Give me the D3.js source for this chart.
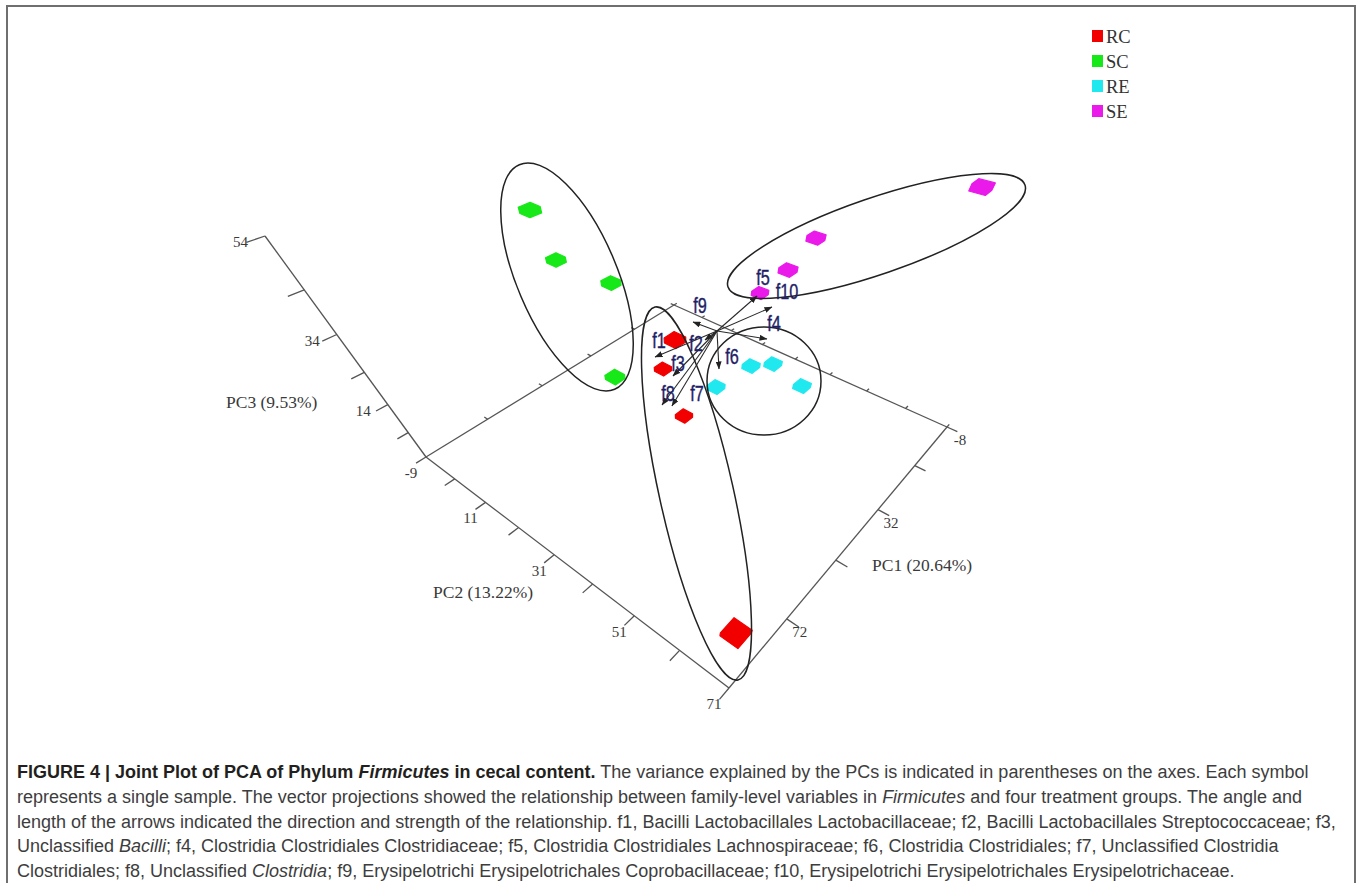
<!DOCTYPE html>
<html><head><meta charset="utf-8">
<script src="https://cdnjs.cloudflare.com/ajax/libs/d3/7.8.5/d3.min.js"></script>
<style>html,body{margin:0;padding:0;background:#fff;} svg{display:block;} text{white-space:pre;}</style>
</head><body>
<svg id="chart" width="1363" height="883"></svg>
<script>
// ---------------- data ----------------
const groups = ["RC", "SC", "RE", "SE"];
const pc1Domain = [-8, 92];
const pc2Domain = [-9, 71];
const pc3Domain = [-6, 54];
const pc1Ticks = [-8, 12, 32, 52, 72];
const pc1TickLabels = ["-8", "", "32", "", "72"];
const pc2Ticks = [-9, 1, 11, 21, 31, 41, 51, 61, 71];
const pc2TickLabels = ["-9", "", "11", "", "31", "", "51", "", "71"];
const pc3Ticks = [4, 14, 24, 34, 44, 54];
const pc3TickLabels = ["", "14", "", "34", "", "54"];
const axisTitles = ["PC1 (20.64%)", "PC2 (13.22%)", "PC3 (9.53%)"];

// sample scores [PC1, PC2, PC3]
const samplesRC = [[45.66, 29.16, 29.42], [35.78, 18.49, 8.44], [40.95, 27.65, 0.95], [91.81, 69.87, 25.20]];
const samplesSC = [[45.93, -2.33, 45.91], [42.64, -2.09, 33.42], [38.19, 8.30, 30.20], [53.08, 19.15, 16.86]];
const samplesRE = [[34.11, 31.52, 9.75], [24.77, 34.44, 12.98], [20.88, 37.59, 13.31], [20.11, 44.62, 9.99]];
const samplesSE = [[5.35, 24.78, 20.69], [9.54, 32.24, 32.22], [0.08, 32.75, 36.79], [-4.49, 56.27, 54.00]];

// family-level vectors (joint plot arrows)
const vectorNames = ["f1", "f2", "f3", "f4", "f5", "f6", "f7", "f8", "f9", "f10"];
const vectorOrigin = [2.36, 12.38, 0];
const vectorTips = [
  [25.12, 8.05, 0], [8.64, 12.59, 0], [28.74, 16.15, 0], [-4.03, 23.90, 0], [-22.95, 10.12, 0],
  [17.64, 22.51, 0], [39.08, 22.99, 0], [40.52, 21.13, 0], [3.20, 5.21, 0], [-20.41, 16.36, 0]
];

const captionLines = [
  [{t: "FIGURE 4 | Joint Plot of PCA of Phylum ", b: 1}, {t: "Firmicutes", b: 1, i: 1}, {t: " in cecal content.", b: 1}, {t: " The variance explained by the PCs is indicated in parentheses on the axes. Each symbol"}],
  [{t: "represents a single sample. The vector projections showed the relationship between family-level variables in "}, {t: "Firmicutes", i: 1}, {t: " and four treatment groups. The angle and"}],
  [{t: "length of the arrows indicated the direction and strength of the relationship. f1, Bacilli Lactobacillales Lactobacillaceae; f2, Bacilli Lactobacillales Streptococcaceae; f3,"}],
  [{t: "Unclassified "}, {t: "Bacilli", i: 1}, {t: "; f4, Clostridia Clostridiales Clostridiaceae; f5, Clostridia Clostridiales Lachnospiraceae; f6, Clostridia Clostridiales; f7, Unclassified Clostridia"}],
  [{t: "Clostridiales; f8, Unclassified "}, {t: "Clostridia", i: 1}, {t: "; f9, Erysipelotrichi Erysipelotrichales Coprobacillaceae; f10, Erysipelotrichi Erysipelotrichales Erysipelotrichaceae."}]
];

// ---------------- layout / style ----------------
const colors = {RC: "#f20000", SC: "#17e817", RE: "#1fe9ef", SE: "#ea1aea"};
const frameAnchors = {B: [674, 305], A: [426, 457], D: [729, 688], C: [947, 427], T: [265, 236]};
const depthRatio = 0.6215;
const boxHalf = [0.016, 0.016, 0.011];
const ellipses = {
  SC: {cx: 567, cy: 277, rx: 122, ry: 50, angle: 67},
  RC: {cx: 696.5, cy: 493.5, rx: 191, ry: 37, angle: 77.45},
  RE: {cx: 764, cy: 381, rx: 57, ry: 54, angle: 0},
  SE: {cx: 876.5, cy: 236, rx: 157, ry: 38, angle: -18.96}
};
const labelOffsets = {f1: [4, -17], f2: [-9, 3], f3: [5, -13], f4: [7, -16], f5: [6, -19],
  f6: [13, -13], f7: [25, -13], f8: [6, -12], f9: [7, -17], f10: [15, -16]};
const serif = "'Liberation Serif', 'Times New Roman', serif";
const sans = "'Liberation Sans', Arial, Helvetica, sans-serif";

const svg = d3.select("#chart");

// ---------------- perspective projection ----------------
function makeProjection(anch, ratio) {
  const [x0, y0] = anch.B, [x1, y1] = anch.A, [x2, y2] = anch.D, [x3, y3] = anch.C;
  const sx = x0 - x1 + x2 - x3, sy = y0 - y1 + y2 - y3;
  const dx1 = x1 - x2, dx2 = x3 - x2, dy1 = y1 - y2, dy2 = y3 - y2;
  const den = dx1 * dy2 - dx2 * dy1;
  const g = (sx * dy2 - dx2 * sy) / den;
  const h = (dx1 * sy - sx * dy1) / den;
  const a = x1 - x0 + g * x1, b = x3 - x0 + h * x3, c = x0;
  const d = y1 - y0 + g * y1, e = y3 - y0 + h * y3, f = y0;
  const wA = g + 1, hA = [a + c, d + f, wA];
  const k = ratio * wA;
  const v = [k * anch.T[0] - hA[0], k * anch.T[1] - hA[1], k - hA[2]];
  return u => {
    const X = a * u[0] + b * u[1] + c + v[0] * u[2];
    const Y = d * u[0] + e * u[1] + f + v[1] * u[2];
    const Wt = g * u[0] + h * u[1] + 1 + v[2] * u[2];
    return [X / Wt, Y / Wt, Wt];
  };
}
const projU = makeProjection(frameAnchors, depthRatio);
const s1 = d3.scaleLinear().domain(pc1Domain).range([0, 1]);
const s2 = d3.scaleLinear().domain(pc2Domain).range([0, 1]);
const s3 = d3.scaleLinear().domain(pc3Domain).range([0, 1]);
const toU = pc => [s1(pc[0]), s2(pc[1]), s3(pc[2])];
const project = pc => projU(toU(pc));
const line = d3.line();

// ---------------- frame border ----------------
svg.append("rect").attr("x", 7).attr("y", 6).attr("width", 1348).attr("height", 900)
  .attr("fill", "none").attr("stroke", "#6f6f6f").attr("stroke-width", 2);

// ---------------- axes ----------------
const gAxes = svg.append("g").attr("stroke", "#555").attr("stroke-width", 1.3).attr("fill", "none");
const seg = (u0, u1) => gAxes.append("path").attr("d", line([projU(u0), projU(u1)].map(p => [p[0], p[1]])));
seg([1, 0, 0], [1, 0, 1]);   // PC3 axis
seg([1, 0, 0], [1, 1, 0]);   // PC2 axis
seg([0, 1, 0], [1, 1, 0]);   // PC1 axis
seg([1, 0, 0], [0, 0, 0]);   // back floor edge
seg([0, 0, 0], [0, 1, 0]);   // back floor edge

const gTxt = svg.append("g").attr("font-family", serif).attr("fill", "#3a3a3a").attr("font-size", 15);
pc3Ticks.forEach((t, i) => {
  const u = s3(t);
  seg([1, 0, u], [1.03, 0, u]);
  const p = projU([1, 0, u]);
  if (pc3TickLabels[i]) gTxt.append("text").attr("x", p[0] - 17).attr("y", p[1] + 6)
    .attr("text-anchor", "end").attr("dominant-baseline", "central").text(pc3TickLabels[i]);
});
pc2Ticks.forEach((t, i) => {
  const u = s2(t);
  seg([1, u, 0], [1.03, u, 0]);
  seg([0, u, 0], [-0.015, u, 0]);
  const p = projU([1, u, 0]);
  if (pc2TickLabels[i]) gTxt.append("text").attr("x", p[0] - 15).attr("y", p[1] + 16)
    .attr("text-anchor", "middle").attr("dominant-baseline", "central").text(pc2TickLabels[i]);
});
pc1Ticks.forEach((t, i) => {
  const u = s1(t);
  seg([u, 1, 0], [u, 1.03, 0]);
  seg([u, 0, 0], [u, -0.015, 0]);
  const p = projU([u, 1, 0]);
  if (pc1TickLabels[i]) gTxt.append("text").attr("x", p[0] + 13).attr("y", p[1] + 13)
    .attr("text-anchor", "middle").attr("dominant-baseline", "central").text(pc1TickLabels[i]);
});
const gTitles = svg.append("g").attr("font-family", serif).attr("fill", "#3a3a3a").attr("font-size", 17.5)
  .attr("dominant-baseline", "central");
gTitles.append("text").attr("x", 872).attr("y", 565).text(axisTitles[0]);
gTitles.append("text").attr("x", 433).attr("y", 592).text(axisTitles[1]);
gTitles.append("text").attr("x", 226).attr("y", 402).text(axisTitles[2]);

// ---------------- samples (small boxes in 3D) ----------------
const sampleSets = {RC: samplesRC, SC: samplesSC, RE: samplesRE, SE: samplesSE};
const gPts = svg.append("g");
groups.forEach(gname => {
  sampleSets[gname].forEach(pc => {
    const u = toU(pc);
    const corners = [];
    for (const a of [-1, 1]) for (const b of [-1, 1]) for (const c of [-1, 1]) {
      const p = projU([u[0] + a * boxHalf[0], u[1] + b * boxHalf[1], u[2] + c * boxHalf[2]]);
      corners.push([p[0], p[1]]);
    }
    const hull = d3.polygonHull(corners);
    gPts.append("path").attr("d", "M" + hull.join("L") + "Z")
      .attr("fill", colors[gname]).attr("stroke", colors[gname]).attr("stroke-width", 1.2)
      .attr("stroke-linejoin", "round");
  });
});

// ---------------- group ellipses ----------------
const gEll = svg.append("g").attr("fill", "none").attr("stroke", "#222").attr("stroke-width", 1.5);
groups.forEach(gname => {
  const e = ellipses[gname];
  gEll.append("ellipse").attr("cx", 0).attr("cy", 0).attr("rx", e.rx).attr("ry", e.ry)
    .attr("transform", `translate(${e.cx},${e.cy}) rotate(${e.angle})`);
});

// ---------------- vectors ----------------
const defs = svg.append("defs");
defs.append("marker").attr("id", "arrow").attr("viewBox", "0 -3 8 6").attr("refX", 7.5).attr("refY", 0)
  .attr("markerWidth", 8).attr("markerHeight", 6).attr("markerUnits", "userSpaceOnUse")
  .attr("orient", "auto").append("path").attr("d", "M0,-3L8,0L0,3Z").attr("fill", "#222");
const o = project(vectorOrigin);
const gVec = svg.append("g").attr("stroke", "#2a2a2a").attr("stroke-width", 1.1).attr("fill", "none");
const gLab = svg.append("g").attr("font-family", sans).attr("font-size", 22).attr("fill", "#1f1f66")
  .attr("stroke", "#1f1f66").attr("stroke-width", 0.4);
vectorNames.forEach((nm, i) => {
  const p = project(vectorTips[i]);
  gVec.append("path").attr("d", line([[o[0], o[1]], [p[0], p[1]]])).attr("marker-end", "url(#arrow)");
  const off = labelOffsets[nm];
  gLab.append("text").attr("transform", `translate(${p[0] + off[0]},${p[1] + off[1]}) scale(0.74,1)`)
    .attr("text-anchor", "middle").attr("dominant-baseline", "central").text(nm);
});

// ---------------- legend ----------------
const gLeg = svg.append("g").attr("font-family", serif).attr("font-size", 18.5).attr("fill", "#333");
groups.forEach((gname, i) => {
  const y = 30 + i * 25;
  gLeg.append("rect").attr("x", 1092).attr("y", y).attr("width", 11).attr("height", 12).attr("fill", colors[gname]);
  gLeg.append("text").attr("x", 1106).attr("y", y + 6.5).attr("dominant-baseline", "central").text(gname);
});

// ---------------- caption ----------------
const baseSize = 15.5;
const gCap = svg.append("g").attr("font-family", "'Liberation Sans', Arial, Helvetica, sans-serif");
const capTexts = captionLines.map((ln, i) => {
  const t = gCap.append("text").attr("x", 17).attr("y", 778 + i * 24.8).attr("font-size", baseSize);
  ln.forEach(part => {
    t.append("tspan").text(part.t)
      .attr("font-weight", part.b ? "bold" : "normal")
      .attr("font-style", part.i ? "italic" : "normal")
      .attr("fill", part.b ? "#231f20" : "#3d3d3d");
  });
  return t;
});
const w3 = capTexts[2].node().getComputedTextLength();
const fs = baseSize * 1320 / w3;
capTexts.forEach(t => t.attr("font-size", fs));
</script>
</body></html>
